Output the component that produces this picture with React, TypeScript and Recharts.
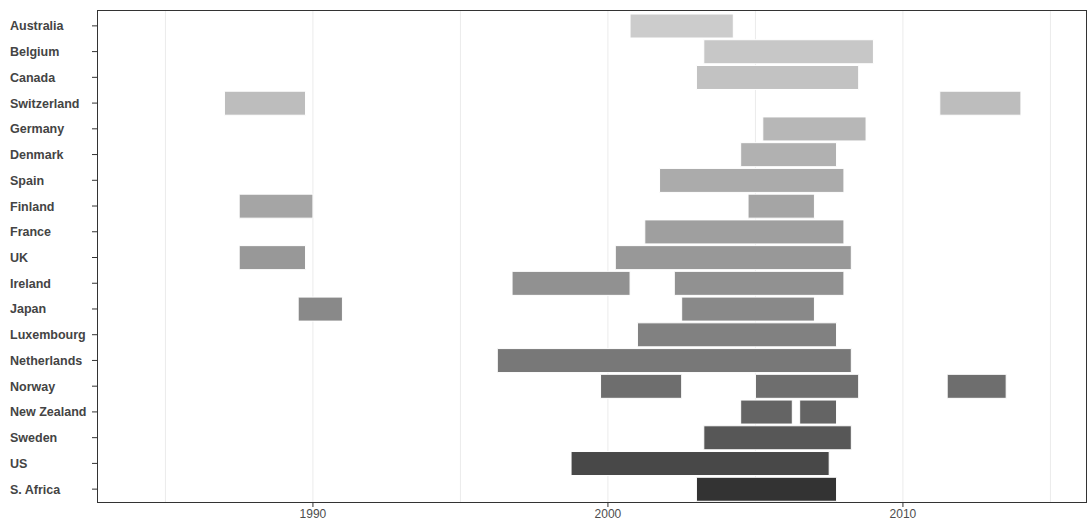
import React from "react";
import { BarChart, Bar, XAxis, YAxis, Cell, CartesianGrid } from "recharts";

document.body.style.margin = "0";

const countries = ["Australia", "Belgium", "Canada", "Switzerland", "Germany", "Denmark", "Spain", "Finland", "France", "UK", "Ireland", "Japan", "Luxembourg", "Netherlands", "Norway", "New Zealand", "Sweden", "US", "S. Africa"];
const seg1: ([number, number] | null)[] = [
  [2000.75, 2004.25], [2003.25, 2009.0], [2003.0, 2008.5], [1987.0, 1989.75], [2005.25, 2008.75],
  [2004.5, 2007.75], [2001.75, 2008.0], [1987.5, 1990.0], [2001.25, 2008.0], [1987.5, 1989.75],
  [1996.75, 2000.75], [1989.5, 1991.0], [2001.0, 2007.75], [1996.25, 2008.25], [1999.75, 2002.5],
  [2004.5, 2006.25], [2003.25, 2008.25], [1998.75, 2007.5], [2003.0, 2007.75],
];
const seg2: ([number, number] | null)[] = [
  null, null, null, [2011.25, 2014.0], null, null, null, [2004.75, 2007.0], null, [2000.25, 2008.25],
  [2002.25, 2008.0], [2002.5, 2007.0], null, null, [2005.0, 2008.5], [2006.5, 2007.75], null, null, null,
];
const seg3: ([number, number] | null)[] = [
  null, null, null, null, null, null, null, null, null, null, null, null, null, null, [2011.5, 2013.5], null, null, null, null,
];
const xTicks = [1990, 2000, 2010];
const gridYears = [1985, 1990, 1995, 2000, 2005, 2010, 2015];
const domain: [number, number] = [1982.68, 2016.24];

const data = countries.map((c, i) => ({ country: c, s1: seg1[i], s2: seg2[i], s3: seg3[i] }));
// grey ramp, gamma 2.2 like gray.colors(0.8 -> 0.2)
const shade = (i: number) => {
  const t = i / (countries.length - 1);
  const a = Math.pow(0.8, 2.2), b = Math.pow(0.2, 2.2);
  const v = Math.round(Math.pow(a + (b - a) * t, 1 / 2.2) * 255);
  return `rgb(${v},${v},${v})`;
};

const YTick = (props: any) => {
  const { y, payload } = props;
  return (
    <g>
      <line x1={92} x2={97} y1={y} y2={y} stroke="#333" />
      <text x={10} y={y} dy={4.5} textAnchor="start" fontSize={12.5} fontWeight="bold" fill="#444" fontFamily="Arial, 'Liberation Sans', sans-serif">
        {payload.value}
      </text>
    </g>
  );
};

export default function App() {
  const bars = ["s1", "s2", "s3"];
  const gridGen = ({ offset }: any) =>
    gridYears.map((g) => offset.left + ((g - domain[0]) / (domain[1] - domain[0])) * offset.width);
  return (
    <div style={{ position: "relative", width: 1087, height: 528 }}>
      <BarChart width={1087} height={528} data={data} layout="vertical" margin={{ top: 10, right: 0, bottom: 0, left: 0 }} barSize={24} barGap={-24}>
        <CartesianGrid horizontal={false} verticalCoordinatesGenerator={gridGen} stroke="#ebebeb" />
        <XAxis type="number" domain={domain} ticks={xTicks} allowDataOverflow height={25} axisLine={false} tickSize={4} tick={{ fontSize: 12, fill: "#4d4d4d", fontFamily: "Arial, 'Liberation Sans', sans-serif" }} tickLine={{ stroke: "#333" }} />
        <YAxis type="category" dataKey="country" width={97} axisLine={false} tickLine={false} tick={<YTick />} interval={0} padding={{ top: 3, bottom: 1 }} />
        {bars.map((k) => (
          <Bar key={k} dataKey={k} isAnimationActive={false} stroke="#fff" strokeWidth={1}>
            {data.map((d, i) => <Cell key={i} fill={shade(i)} />)}
          </Bar>
        ))}
      </BarChart>
      <div style={{ position: "absolute", left: 97, top: 10, width: 990, height: 493, border: "1px solid #333", boxSizing: "border-box", pointerEvents: "none" }} />
    </div>
  );
}
